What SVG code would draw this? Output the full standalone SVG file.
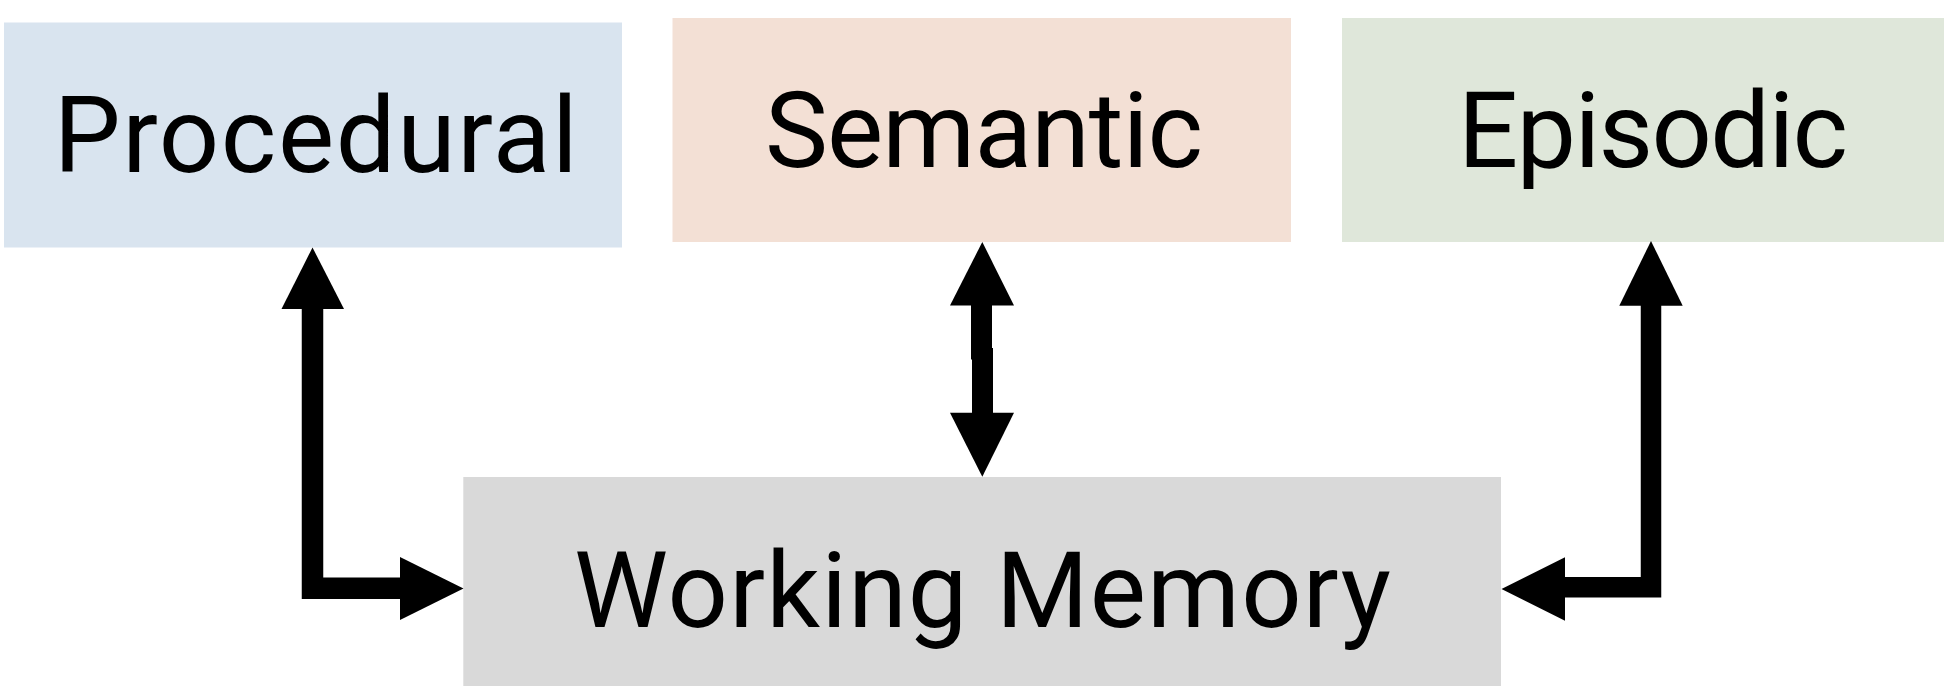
<svg xmlns="http://www.w3.org/2000/svg" width="1944" height="686" viewBox="0 0 1944 686">
  <style>
    .label { font-family: Roboto, "Liberation Sans", Arial, sans-serif; font-size: 106px; font-weight: 400; fill: #000; text-anchor: middle; }
    .shaft { fill: none; stroke: #000; stroke-linejoin: miter; stroke-linecap: butt; }
    .head { fill: #000; }
  </style>
  <rect width="1944" height="686" fill="#ffffff"/>

  <g id="procedural">
    <rect x="4" y="22.5" width="618" height="225" fill="#D9E4EF"/>
    <text class="label" x="315.8" y="171.7" textLength="524" lengthAdjust="spacing">Procedural</text>
  </g>

  <g id="semantic">
    <rect x="672.5" y="18" width="618.5" height="224" fill="#F3E0D5"/>
    <text class="label" x="984" y="166.7" textLength="438" lengthAdjust="spacing">Semantic</text>
  </g>

  <g id="episodic">
    <rect x="1342" y="18" width="602" height="224" fill="#DFE7DA"/>
    <text class="label" x="1653" y="166.7" textLength="390" lengthAdjust="spacing">Episodic</text>
  </g>

  <g id="working-memory">
    <rect x="463.3" y="477" width="1037.7" height="209" fill="#D9D9D9"/>
    <text class="label" x="982.5" y="626.7" textLength="817" lengthAdjust="spacing">Working Memory</text>
  </g>

  <g id="connectors">
    <!-- Procedural <-> Working Memory -->
    <path class="shaft" d="M312.5,308 V588.3 H401" stroke-width="21.5"/>
    <polygon class="head" points="312.5,247.5 344,309 281.5,309"/>
    <polygon class="head" points="463.5,588.5 400,620 400,557"/>

    <!-- Semantic <-> Working Memory -->
    <rect class="head" x="971" y="304.5" width="21" height="55"/>
    <rect class="head" x="972" y="348" width="21" height="65.5"/>
    <polygon class="head" points="982.3,242 1014,305.5 950,305.5"/>
    <polygon class="head" points="982.3,476.7 1014,412.7 950,412.7"/>

    <!-- Episodic <-> Working Memory -->
    <path class="shaft" d="M1651,305 V587.3 H1564" stroke-width="20.5"/>
    <polygon class="head" points="1651,241 1682.7,305.7 1619.3,305.7"/>
    <polygon class="head" points="1501.5,589 1565,557.3 1565,620.7"/>
  </g>
</svg>
